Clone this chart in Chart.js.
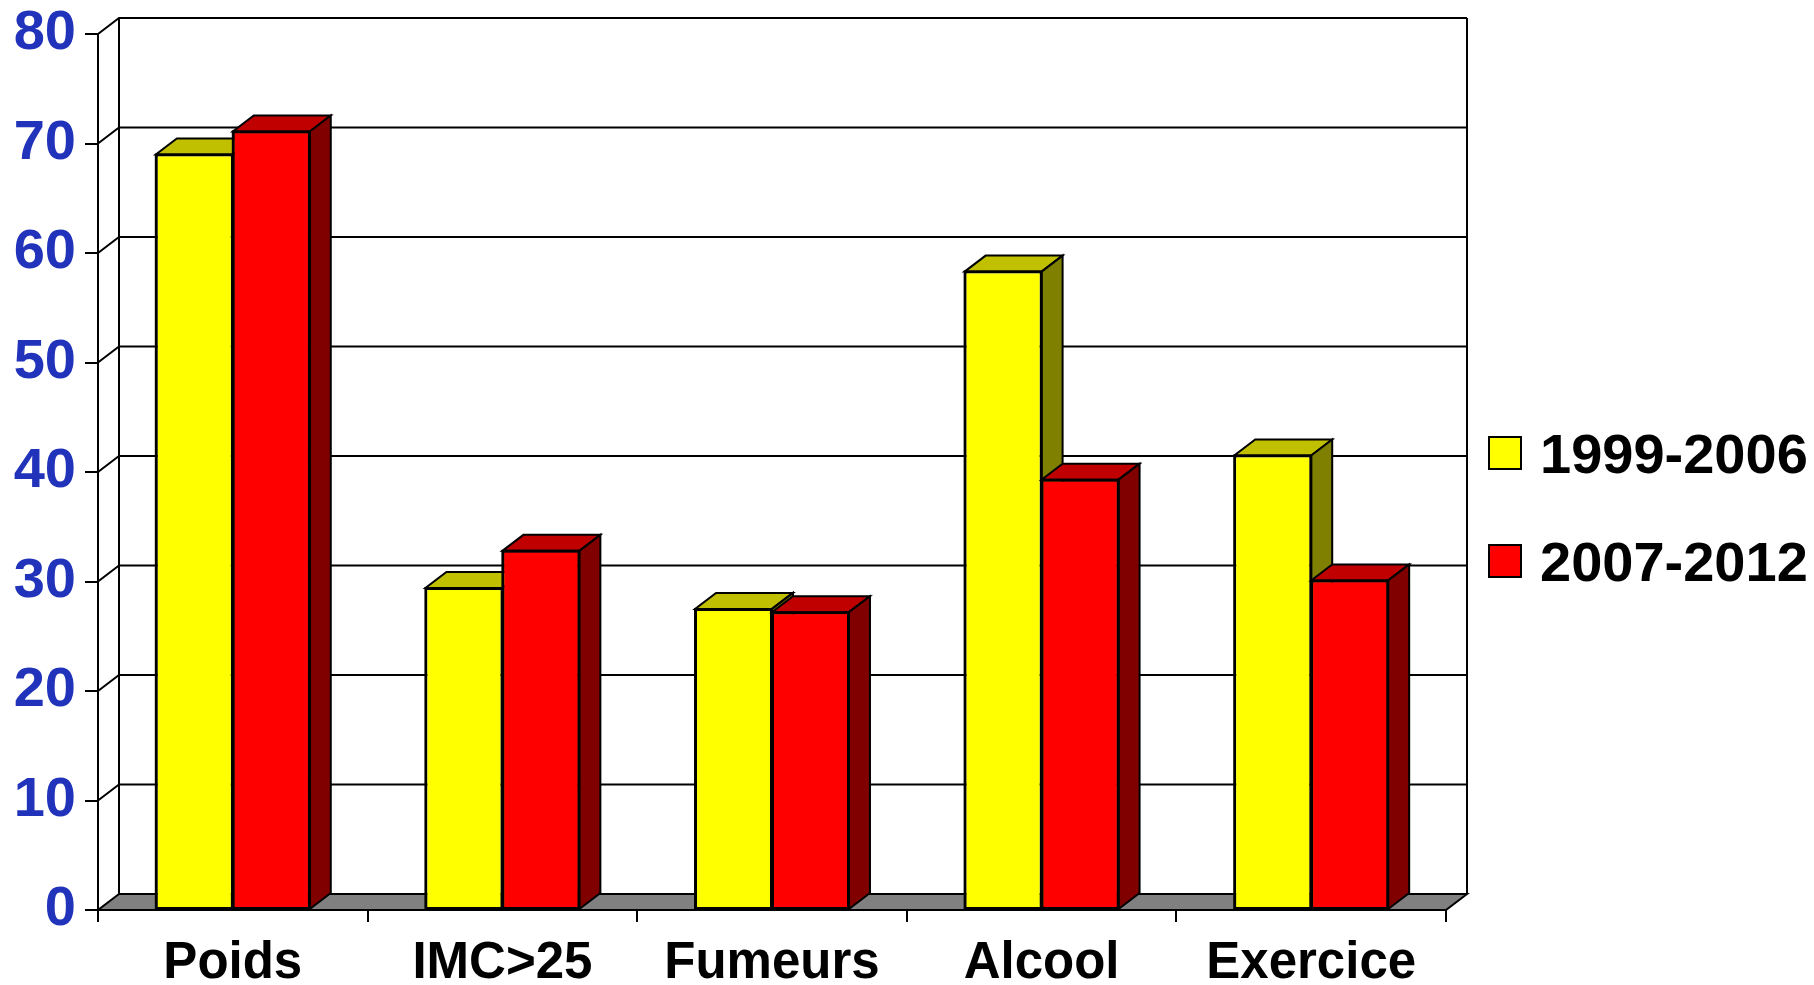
<!DOCTYPE html>
<html>
<head>
<meta charset="utf-8">
<script src="https://cdn.jsdelivr.net/npm/chart.js@4.4.0/dist/chart.umd.min.js"></script>
<style>
  html, body { margin: 0; padding: 0; background: #fff; overflow: hidden; }
  #wrap { width: 1814px; height: 985px; position: relative; }
</style>
</head>
<body>
<div id="wrap"><canvas id="chart"></canvas></div>
<script>
// Categories and the two survey periods
const categories = ['Poids', 'IMC>25', 'Fumeurs', 'Alcool', 'Exercice'];
const seriesNames = ['1999-2006', '2007-2012'];
const values1999 = [69, 29.4, 27.5, 58.3, 41.5];
const values2007 = [71.1, 32.8, 27.2, 39.3, 30.1];
const yTickMin = 0;
const yTickMax = 80;
const yTickStep = 10;

const FONT = '"Liberation Sans", Arial, Helvetica, sans-serif';
const LABEL_BLUE = '#2233BB';
// Oblique offset used for the pseudo-3D depth of walls, floor and columns
const DEPTH_X = 21;
const DEPTH_Y = -16;
const faces = [
  { front: '#FFFF00', top: '#C0C000', side: '#808000' },
  { front: '#FF0000', top: '#C00000', side: '#800000' }
];

function poly(ctx, pts, fill) {
  ctx.beginPath();
  ctx.moveTo(pts[0][0], pts[0][1]);
  for (let i = 1; i < pts.length; i++) ctx.lineTo(pts[i][0], pts[i][1]);
  ctx.closePath();
  if (fill) { ctx.fillStyle = fill; ctx.fill(); }
  ctx.stroke();
}

// Back wall, left-wall connectors and floor, drawn behind the columns
const wallsPlugin = {
  id: 'walls',
  beforeDatasetsDraw(chart) {
    const { ctx, chartArea, scales } = chart;
    const { left, right, top, bottom } = chartArea;
    const y = scales.y;
    ctx.save();
    ctx.strokeStyle = '#000';
    ctx.lineWidth = 2;
    ctx.lineJoin = 'miter';
    y.ticks.forEach(t => {
      const py = y.getPixelForValue(t.value);
      if (t.value === yTickMin) return;
      ctx.beginPath();
      ctx.moveTo(left, py);
      ctx.lineTo(left + DEPTH_X, py + DEPTH_Y);
      ctx.lineTo(right + DEPTH_X, py + DEPTH_Y);
      ctx.stroke();
    });
    ctx.beginPath();
    ctx.moveTo(left + DEPTH_X, top + DEPTH_Y);
    ctx.lineTo(left + DEPTH_X, bottom + DEPTH_Y);
    ctx.moveTo(right + DEPTH_X, top + DEPTH_Y);
    ctx.lineTo(right + DEPTH_X, bottom + DEPTH_Y);
    ctx.stroke();
    poly(ctx, [[left, bottom], [right, bottom], [right + DEPTH_X, bottom + DEPTH_Y], [left + DEPTH_X, bottom + DEPTH_Y]], '#808080');
    ctx.restore();
  },
  // Top and side faces of each column; columns are painted left to right
  afterDatasetsDraw(chart) {
    const { ctx } = chart;
    const metas = chart.data.datasets.map((d, i) => chart.getDatasetMeta(i));
    ctx.save();
    ctx.strokeStyle = '#000';
    ctx.lineWidth = 2;
    ctx.lineJoin = 'miter';
    for (let i = 0; i < categories.length; i++) {
      metas.forEach((meta, d) => {
        const bar = meta.data[i];
        if (d > 0) bar.draw(ctx, chart.chartArea);
        const l = bar.x - bar.width / 2;
        const r = bar.x + bar.width / 2;
        const t = bar.y;
        const b = bar.base;
        poly(ctx, [[l, t], [r, t], [r + DEPTH_X, t + DEPTH_Y], [l + DEPTH_X, t + DEPTH_Y]], faces[d].top);
        poly(ctx, [[r, t], [r + DEPTH_X, t + DEPTH_Y], [r + DEPTH_X, b + DEPTH_Y], [r, b]], faces[d].side);
        ctx.beginPath();
        ctx.rect(l, t, r - l, b - t);
        ctx.stroke();
      });
    }
    ctx.restore();
  }
};

// Legend to the right of the plot
const legendPlugin = {
  id: 'sideLegend',
  afterDraw(chart) {
    const { ctx } = chart;
    const boxX = 1489, boxSize = 32, textX = 1540;
    const rows = [453, 561];
    ctx.save();
    ctx.font = 'bold 56px ' + FONT;
    ctx.textAlign = 'left';
    ctx.textBaseline = 'alphabetic';
    chart.data.datasets.forEach((ds, i) => {
      const cy = rows[i];
      ctx.fillStyle = ds.backgroundColor;
      ctx.fillRect(boxX, cy - boxSize / 2, boxSize, boxSize);
      ctx.strokeStyle = '#000';
      ctx.lineWidth = 2;
      ctx.strokeRect(boxX, cy - boxSize / 2, boxSize, boxSize);
      ctx.fillStyle = '#000';
      ctx.fillText(ds.label, textX, cy + 20);
    });
    ctx.restore();
  }
};

const canvas = document.getElementById('chart');
canvas.width = 1814;
canvas.height = 985;

new Chart(canvas, {
  type: 'bar',
  data: {
    labels: categories,
    datasets: [
      { label: seriesNames[0], data: values1999, backgroundColor: faces[0].front, borderColor: '#000', borderWidth: 2, borderSkipped: false },
      { label: seriesNames[1], data: values2007, backgroundColor: faces[1].front, borderColor: '#000', borderWidth: 2, borderSkipped: false }
    ]
  },
  options: {
    responsive: false,
    animation: false,
    devicePixelRatio: 1,
    layout: { padding: { left: 0, right: 368, top: 34, bottom: 0 } },
    datasets: { bar: { categoryPercentage: 0.571, barPercentage: 1.0 } },
    plugins: { legend: { display: false }, tooltip: { enabled: false } },
    scales: {
      x: {
        grid: { offset: true, drawOnChartArea: false, drawTicks: true, tickLength: 12, color: '#000', lineWidth: 2 },
        border: { display: true, color: '#000', width: 2 },
        ticks: { color: '#000', font: { family: FONT, size: 51, weight: 'bold' }, padding: 11, maxRotation: 0, autoSkip: false },
        afterFit(scale) {
          scale.height = 75;
          scale.paddingLeft = 0;
          scale.paddingRight = 0;
        }
      },
      y: {
        min: yTickMin,
        max: yTickMax,
        ticks: { stepSize: yTickStep, color: LABEL_BLUE, font: { family: FONT, size: 56, weight: 'bold' }, padding: 9 },
        grid: { drawOnChartArea: false, drawTicks: true, tickLength: 13, color: '#000', lineWidth: 2 },
        border: { display: true, color: '#000', width: 2 },
        afterFit(scale) {
          scale.width = 98;
          scale.paddingTop = 0;
          scale.paddingBottom = 0;
        }
      }
    }
  },
  plugins: [wallsPlugin, legendPlugin]
});
</script>
</body>
</html>
